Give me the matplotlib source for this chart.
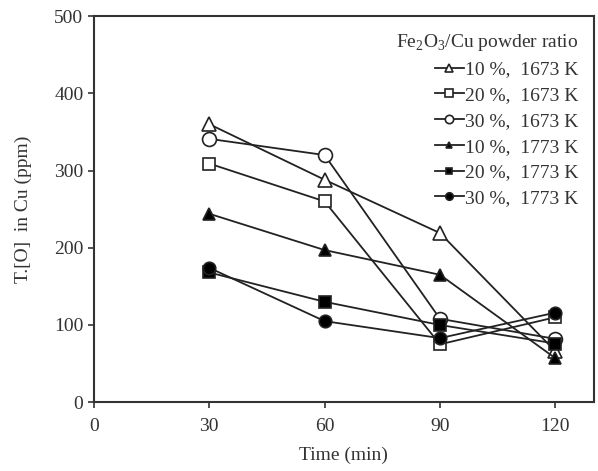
import matplotlib
matplotlib.use('Agg')
import matplotlib.pyplot as plt

plt.rcParams['font.family'] = ['Liberation Serif', 'DejaVu Serif']
plt.rcParams['mathtext.fontset'] = 'custom'
plt.rcParams['mathtext.rm'] = 'Liberation Serif'

time_min = [30, 60, 90, 120]
tri_open = [360, 288, 219, 66]
sq_open = [309, 260, 75, 110]
circ_open = [341, 320, 108, 82]
tri_fill = [244, 197, 165, 57]
sq_fill = [168, 130, 100, 76]
circ_fill = [174, 105, 83, 116]

labels = ['10 %,  1673 K', '20 %,  1673 K', '30 %,  1673 K',
          '10 %,  1773 K', '20 %,  1773 K', '30 %,  1773 K']

fig = plt.figure(figsize=(5.98, 4.71), dpi=100)
ax = fig.add_axes([0.157, 0.146, 0.836, 0.82])

series = [
    (tri_open, '^', 'white', 10),
    (sq_open, 's', 'white', 9),
    (circ_open, 'o', 'white', 10),
    (tri_fill, '^', 'black', 8),
    (sq_fill, 's', 'black', 8),
    (circ_fill, 'o', 'black', 9),
]
for (vals, m, fc, ms), lab in zip(series, labels):
    ax.plot(time_min, vals, color='#222222', lw=1.3, marker=m, markersize=ms,
            markerfacecolor=fc, markeredgecolor='#222222', markeredgewidth=1.2,
            label=lab)

ax.set_xlim(0, 130)
ax.set_ylim(0, 500)
ax.set_xticks([0, 30, 60, 90, 120])
ax.set_yticks([0, 100, 200, 300, 400, 500])
ax.tick_params(direction='out', length=4, width=1.2, labelsize=14, colors='#333333')
ax.tick_params(axis='x', pad=7)
for s in ax.spines.values():
    s.set_linewidth(1.5)
    s.set_color('#333333')
ax.set_xlabel('Time (min)', fontsize=14, color='#333333', labelpad=9)
ax.set_ylabel('T.[O]  in Cu (ppm)', fontsize=14, color='#333333', labelpad=16)

leg = ax.legend(title='Fe$_2$O$_3$/Cu powder ratio', loc='upper right',
                frameon=False, fontsize=14, title_fontsize=14, handlelength=1.5,
                handletextpad=0.05, labelspacing=0.42, markerscale=0.6,
                borderaxespad=0.5, alignment='right', borderpad=0.3)
for t in leg.get_texts():
    t.set_color('#333333')
leg.get_title().set_color('#333333')

fig.savefig('out.png', dpi=100)
